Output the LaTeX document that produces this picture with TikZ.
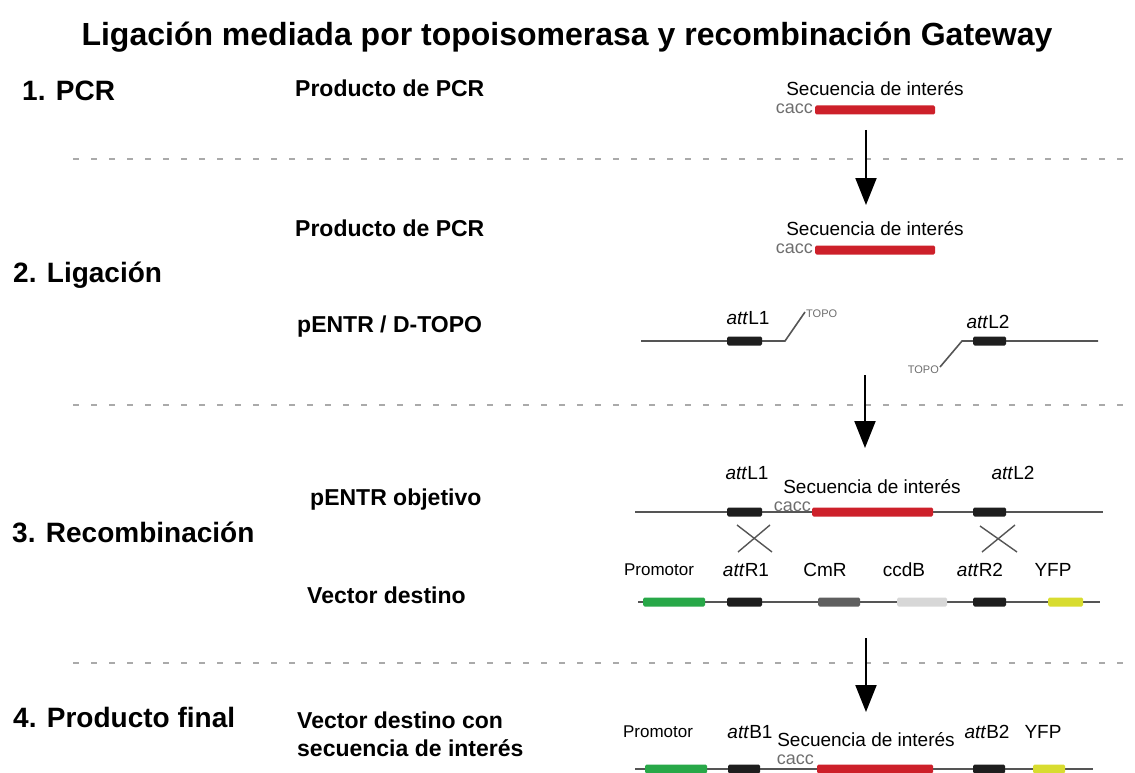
\documentclass[tikz,border=0pt]{standalone}
\usepackage{fontspec}
\setmainfont{Liberation Sans}
\usetikzlibrary{arrows.meta}
\definecolor{dnared}{RGB}{205,32,42}
\definecolor{dnagreen}{RGB}{40,168,72}
\definecolor{dnadark}{RGB}{30,30,30}
\definecolor{cmrgray}{RGB}{95,95,95}
\definecolor{ccdbgray}{RGB}{215,215,215}
\definecolor{yfpyellow}{RGB}{216,220,48}
\definecolor{linegray}{RGB}{85,85,85}
\definecolor{caccgray}{RGB}{110,110,110}
\definecolor{sepgray}{RGB}{170,170,170}
\begin{document}
\begin{tikzpicture}[x=1pt,y=-1pt,
  titletext/.style={font=\bfseries\fontsize{32}{38}\selectfont, inner sep=0},
  sectext/.style={font=\bfseries\fontsize{28}{33}\selectfont, anchor=west, inner sep=0},
  labtext/.style={font=\bfseries\fontsize{23}{28}\selectfont, anchor=west, inner sep=0, align=left},
  genetext/.style={font=\fontsize{19}{23}\selectfont, inner sep=0},
  seqtext/.style={font=\fontsize{19}{23}\selectfont, inner sep=0},
  promtext/.style={font=\fontsize{17}{20}\selectfont, inner sep=0},
  cacctext/.style={font=\fontsize{18}{22}\selectfont, inner sep=0, text=caccgray, anchor=east},
  topotext/.style={font=\fontsize{11}{13}\selectfont, inner sep=0, text=caccgray},
  seg/.style={draw=none, rounded corners=1.5pt, minimum height=9pt, inner sep=0, outer sep=0},
  dna/.style={line width=1.6pt, draw=linegray},
  sepline/.style={line width=1.8pt, draw=sepgray, dash pattern=on 6pt off 12pt},
  flow/.style={line width=2pt, -{Triangle[width=21pt,length=27pt]}},
  cross/.style={line width=1.4pt, draw=linegray}
]
\useasboundingbox (0,0) rectangle (1135,773);

% title
\node[titletext] (title) at (567,37) {Ligación mediada por topoisomerasa y recombinación Gateway};

% section labels
\node[sectext] (s1) at (22,91) {1. PCR};
\node[sectext] (s2) at (13,275) {2. Ligación};
\node[sectext] (s3) at (12,532) {3. Recombinación};
\node[sectext] (s4) at (13,717) {4. Producto final};

% middle labels
\node[labtext] (l1) at (295,88) {Producto de PCR};
\node[labtext] (l2) at (295,228) {Producto de PCR};
\node[labtext] (l3) at (297,327) {pENTR / D-TOPO};
\node[labtext] (l4) at (310,500) {pENTR objetivo};
\node[labtext] (l5) at (307,595) {Vector destino};
\node[labtext] (l6) at (297,734) {Vector destino con\\secuencia de interés};

% separators
\coordinate (d1a) at (73,159); \coordinate (d1b) at (1135,159);
\coordinate (d2a) at (73,405); \coordinate (d2b) at (1135,405);
\coordinate (d3a) at (73,663); \coordinate (d3b) at (1135,663);
\draw[sepline] (d1a) -- (d1b);
\draw[sepline] (d2a) -- (d2b);
\draw[sepline] (d3a) -- (d3b);

% ---- row 1: PCR product
\node[seqtext] (seq1) at (875,89) {Secuencia de interés};
\node[seg, fill=dnared, minimum width=120pt] (red1) at (875,110) {};
\node[cacctext] (cacc1) at (813,109) {cacc};

% arrow 1
\coordinate (a1s) at (866,130); \coordinate (a1e) at (866,205);
\draw[flow] (a1s) -- (a1e);

% ---- row 2: PCR product
\node[seqtext] (seq2) at (875,229) {Secuencia de interés};
\node[seg, fill=dnared, minimum width=120pt] (red2) at (875,250) {};
\node[cacctext] (cacc2) at (813,249) {cacc};

% pENTR / D-TOPO
\coordinate (p1) at (641,341); \coordinate (p2) at (785,341); \coordinate (p3) at (805,312);
\coordinate (q1) at (1098,341); \coordinate (q2) at (962,341); \coordinate (q3) at (940,367);
\draw[dna] (p1) -- (p2) -- (p3);
\draw[dna] (q1) -- (q2) -- (q3);
\node[seg, fill=dnadark, minimum width=35pt] (l1box) at (744.5,341) {};
\node[seg, fill=dnadark, minimum width=33pt] (l2box) at (989.5,341) {};
\node[genetext] (attl1a) at (748,318) {\textit{att}L1};
\node[genetext] (attl2a) at (988,322) {\textit{att}L2};
\node[topotext, anchor=west] (topo1) at (806,314) {TOPO};
\node[topotext, anchor=east] (topo2) at (939,370) {TOPO};

% arrow 2
\coordinate (a2s) at (865,375); \coordinate (a2e) at (865,448);
\draw[flow] (a2s) -- (a2e);

% ---- row 3: entry clone
\coordinate (e1) at (635,512); \coordinate (e2) at (1103,512);
\draw[dna] (e1) -- (e2);
\node[seg, fill=dnadark, minimum width=35pt] (el1) at (744.5,512) {};
\node[seg, fill=dnadark, minimum width=33pt] (el2) at (989.5,512) {};
\node[seg, fill=dnared, minimum width=121pt] (ered) at (872.5,512) {};
\node[cacctext] (cacc3) at (811,507) {cacc};
\node[genetext] (attl1b) at (747,473) {\textit{att}L1};
\node[seqtext] (seq3) at (872,487) {Secuencia de interés};
\node[genetext] (attl2b) at (1013,473) {\textit{att}L2};

% crossovers
\coordinate (x1a) at (737,525); \coordinate (x1b) at (772,552);
\coordinate (x1c) at (738,552); \coordinate (x1d) at (770,525);
\draw[cross] (x1a) -- (x1b);
\draw[cross] (x1c) -- (x1d);
\coordinate (x2a) at (980,526); \coordinate (x2b) at (1017,552);
\coordinate (x2c) at (982,552); \coordinate (x2d) at (1015,525);
\draw[cross] (x2a) -- (x2b);
\draw[cross] (x2c) -- (x2d);

% destination vector
\node[promtext] (prom3) at (659,570) {Promotor};
\node[genetext] (attr1) at (746,570) {\textit{att}R1};
\node[genetext] (cmr) at (825,570) {CmR};
\node[genetext] (ccdb) at (904,570) {ccdB};
\node[genetext] (attr2) at (980,570) {\textit{att}R2};
\node[genetext] (yfp3) at (1053,570) {YFP};
\coordinate (v1) at (638,602); \coordinate (v2) at (1100,602);
\draw[dna] (v1) -- (v2);
\node[seg, fill=dnagreen, minimum width=62pt] (vg) at (674,602) {};
\node[seg, fill=dnadark, minimum width=35pt] (vb1) at (744.5,602) {};
\node[seg, fill=cmrgray, minimum width=42pt] (vcm) at (839,602) {};
\node[seg, fill=ccdbgray, minimum width=50pt] (vcc) at (922,602) {};
\node[seg, fill=dnadark, minimum width=33pt] (vb2) at (989.5,602) {};
\node[seg, fill=yfpyellow, minimum width=35pt] (vy) at (1065.5,602) {};

% arrow 3
\coordinate (a3s) at (866,638); \coordinate (a3e) at (866,712);
\draw[flow] (a3s) -- (a3e);

% ---- row 4: final product
\node[promtext] (prom4) at (658,732) {Promotor};
\node[genetext] (attb1) at (750,732) {\textit{att}B1};
\node[seqtext] (seq4) at (866,740) {Secuencia de interés};
\node[genetext] (attb2) at (987,732) {\textit{att}B2};
\node[genetext] (yfp4) at (1043,732) {YFP};
\coordinate (f1) at (635,769); \coordinate (f2) at (1093,769);
\draw[dna] (f1) -- (f2);
\node[seg, fill=dnagreen, minimum width=62pt] (fg) at (676,769) {};
\node[seg, fill=dnadark, minimum width=32pt] (fb1) at (744,769) {};
\node[seg, fill=dnared, minimum width=116pt] (fred) at (875,769) {};
\node[seg, fill=dnadark, minimum width=32pt] (fb2) at (989,769) {};
\node[seg, fill=yfpyellow, minimum width=32pt] (fy) at (1049,769) {};
\node[cacctext] (cacc4) at (814,760) {cacc};
\end{tikzpicture}
\end{document}
